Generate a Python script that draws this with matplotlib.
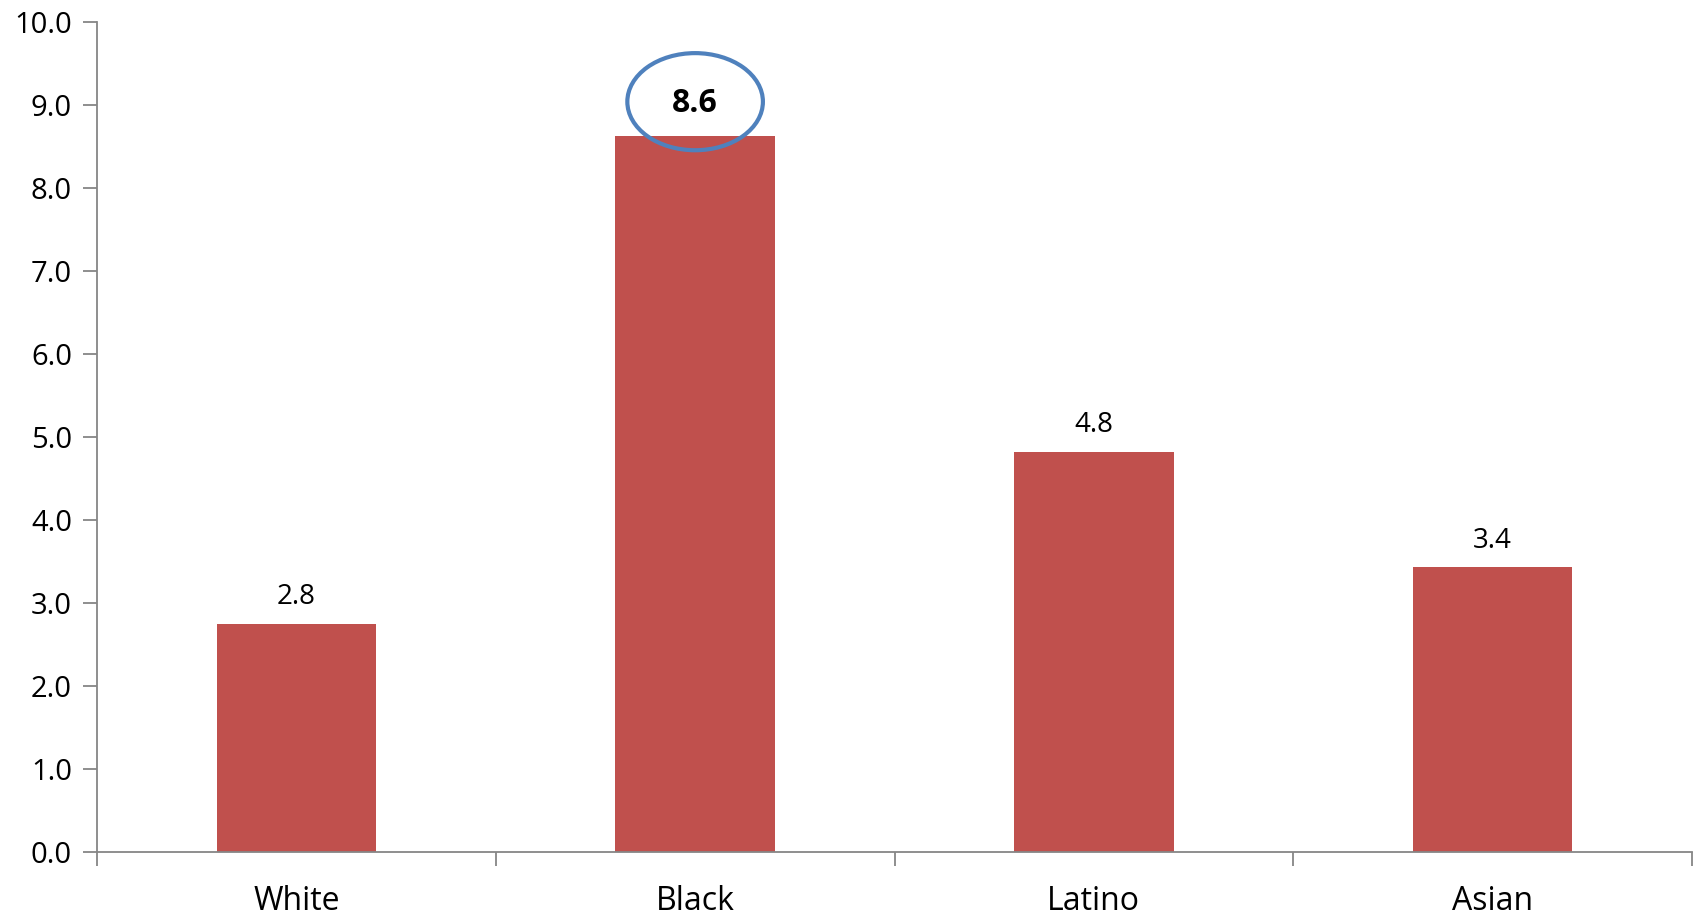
import numpy as np
import matplotlib
matplotlib.use("Agg")
from matplotlib import pyplot as plt
from matplotlib.patches import Ellipse

categories = ["White", "Black", "Latino", "Asian"]
values = [2.75, 8.63, 4.82, 3.43]
labels = ["2.8", "8.6", "4.8", "3.4"]
yticks = np.arange(0, 10.5, 1.0)

plt.rcParams['font.family'] = ['Open Sans', 'DejaVu Sans']

fig = plt.figure(figsize=(16.96, 9.16), dpi=100)
ax = fig.add_axes([97 / 1696, 1 - 852 / 916, (1692 - 97) / 1696, (852 - 22) / 916])

x = np.arange(len(categories))
ax.bar(x, values, width=0.4, color="#c0504d", zorder=2)

for i, (v, lab) in enumerate(zip(values, labels)):
    if categories[i] == "Black":
        continue
    ax.text(i, v + 0.15, lab, ha="center", va="bottom", fontsize=20)

# highlighted value
bi = categories.index("Black")
ax.text(bi, 9.02, labels[bi], ha="center", va="center", fontsize=23, fontweight="bold", zorder=4)
ax.add_patch(Ellipse((bi, 9.04), 0.34, 1.17, fill=False, edgecolor="#4f81bd", lw=3, zorder=3))

ax.set_xlim(-0.5, len(categories) - 0.5)
ax.set_ylim(0, 10)
ax.set_yticks(yticks)
ax.set_yticklabels(["%.1f" % t for t in yticks], fontsize=21)
ax.set_xticks(x)
ax.set_xticklabels(categories, fontsize=23)
ax.tick_params(axis="x", length=0, pad=24)
ax.set_xticks(np.arange(-0.5, len(categories)), minor=True)
ax.tick_params(axis="x", which="minor", length=10, color="#868686", width=1.3)
ax.tick_params(axis="y", length=10, color="#868686", width=1.3, pad=8)

for s in ["top", "right"]:
    ax.spines[s].set_visible(False)
for s in ["left", "bottom"]:
    ax.spines[s].set_color("#868686")
    ax.spines[s].set_linewidth(1.3)

fig.savefig("out.png", dpi=100)
